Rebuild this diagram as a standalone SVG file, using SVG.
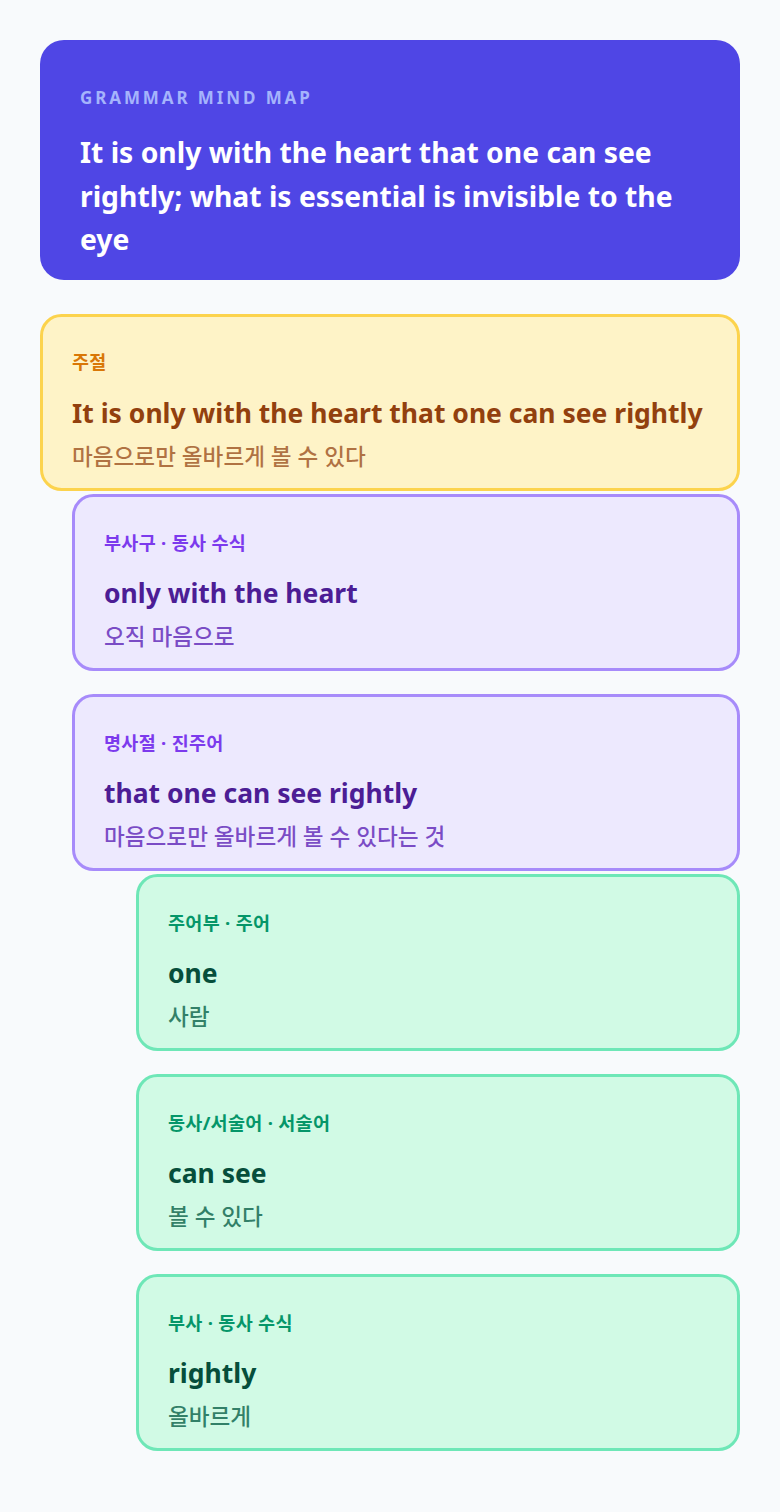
<svg xmlns="http://www.w3.org/2000/svg" width="780" height="1512" viewBox="0 0 780 1512">
  <style>
    text { font-family: "Noto Sans", "Noto Sans CJK KR", sans-serif; }
    .hlabel { font-size: 17px; font-weight: 700; fill: #a5b4fc; letter-spacing: 2.9px; }
    .htitle { font-size: 28.3px; font-weight: 700; fill: #ffffff; }
    .box { stroke-width: 3; }
    .lab { font-size: 18.5px; font-weight: 700; letter-spacing: 0.3px; }
    .main { font-size: 26.5px; font-weight: 700; }
    .sub { font-size: 22.6px; font-weight: 500; }
    .y .box { fill: #fef3c7; stroke: #fcd34d; }
    .y .lab { fill: #d97706; }
    .y .main { fill: #92400e; }
    .y .sub { fill: #92400e; fill-opacity: 0.72; }
    .p .box { fill: #ede9fe; stroke: #a78bfa; }
    .p .lab { fill: #7c3aed; }
    .p .main { fill: #4c1d95; }
    .p .sub { fill: #5b21b6; fill-opacity: 0.78; }
    .g .box { fill: #d1fae5; stroke: #6ee7b7; }
    .g .lab { fill: #059669; }
    .g .main { fill: #064e3b; }
    .g .sub { fill: #065f46; fill-opacity: 0.78; }
  </style>
  <rect x="0" y="0" width="780" height="1512" fill="#f8fafc"/>
  <g id="header">
    <rect x="40" y="40" width="700" height="240" rx="24" fill="#4f46e5"/>
    <text class="hlabel" x="80" y="104">GRAMMAR MIND MAP</text>
    <text class="htitle" x="80" y="163">It is only with the heart that one can see</text>
    <text class="htitle" x="80" y="207">rightly; what is essential is invisible to the</text>
    <text class="htitle" x="80" y="250">eye</text>
  </g>
  <g id="connectors"></g>
  <g id="node-main-clause" class="y">
    <rect class="box" x="41.5" y="315.5" width="697" height="174" rx="20"/>
    <text class="lab" x="72" y="369">주절</text>
    <text class="main" x="72" y="423">It is only with the heart that one can see rightly</text>
    <text class="sub" x="72" y="465">마음으로만 올바르게 볼 수 있다</text>
  </g>
  <g id="node-adverb-phrase" class="p">
    <rect class="box" x="73.5" y="495.5" width="665" height="174" rx="20"/>
    <text class="lab" x="104" y="550">부사구 · 동사 수식</text>
    <text class="main" x="104" y="603">only with the heart</text>
    <text class="sub" x="104" y="645">오직 마음으로</text>
  </g>
  <g id="node-noun-clause" class="p">
    <rect class="box" x="73.5" y="695.5" width="665" height="174" rx="20"/>
    <text class="lab" x="104" y="750">명사절 · 진주어</text>
    <text class="main" x="104" y="803">that one can see rightly</text>
    <text class="sub" x="104" y="845">마음으로만 올바르게 볼 수 있다는 것</text>
  </g>
  <g id="node-subject" class="g">
    <rect class="box" x="137.5" y="875.5" width="601" height="174" rx="20"/>
    <text class="lab" x="168" y="930">주어부 · 주어</text>
    <text class="main" x="168" y="983">one</text>
    <text class="sub" x="168" y="1025">사람</text>
  </g>
  <g id="node-verb" class="g">
    <rect class="box" x="137.5" y="1075.5" width="601" height="174" rx="20"/>
    <text class="lab" x="168" y="1130">동사/서술어 · 서술어</text>
    <text class="main" x="168" y="1183">can see</text>
    <text class="sub" x="168" y="1225">볼 수 있다</text>
  </g>
  <g id="node-adverb" class="g">
    <rect class="box" x="137.5" y="1275.5" width="601" height="174" rx="20"/>
    <text class="lab" x="168" y="1330">부사 · 동사 수식</text>
    <text class="main" x="168" y="1383">rightly</text>
    <text class="sub" x="168" y="1425">올바르게</text>
  </g>
</svg>
